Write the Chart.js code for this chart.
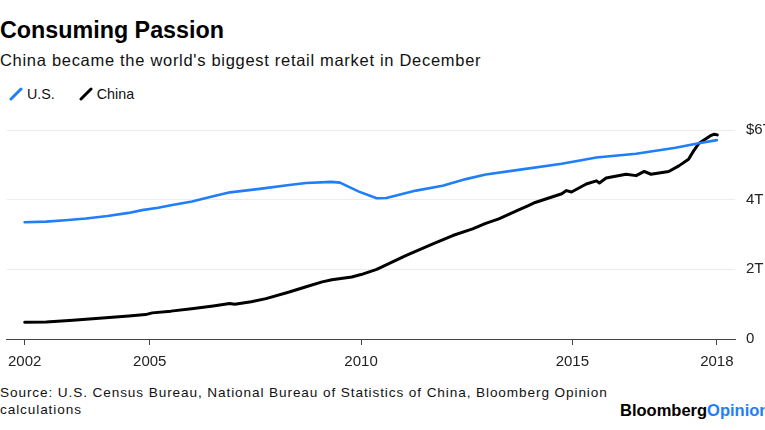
<!DOCTYPE html>
<html>
<head>
<meta charset="utf-8">
<script src="https://cdn.jsdelivr.net/npm/chart.js@4.4.1/dist/chart.umd.min.js"></script>
<style>
  body { margin: 0; width: 765px; height: 430px; overflow: hidden; background: #fff;
         font-family: "Liberation Sans", Arial, sans-serif; color: #000; position: relative; }
  #title { position: absolute; left: 0; top: 17px; font-size: 23.3px; font-weight: bold; }
  #subtitle { position: absolute; left: 0; top: 51px; font-size: 16.5px; letter-spacing: 0.7px; color: #111; }
  #legend { position: absolute; left: 9px; top: 86px; font-size: 14.3px; color: #111; }
  #legend span.item { display: inline-block; margin-right: 20px; }
  #legend svg { vertical-align: -2px; margin-right: 4px; }
  #wrap { position: absolute; left: 0; top: 110px; width: 765px; height: 265px; }
  #source { position: absolute; left: 0; top: 384px; font-size: 13.6px; letter-spacing: 0.9px; line-height: 17px; color: #111; }
  #logo { position: absolute; left: 620px; top: 401px; font-size: 16.5px; line-height: 19px;
          font-weight: bold; white-space: nowrap; }
  #logo .op { color: #1f7ef8; }
</style>
</head>
<body>
<div id="title">Consuming Passion</div>
<div id="subtitle">China became the world's biggest retail market in December</div>
<div id="legend">
  <span class="item"><svg width="14" height="14"><line x1="2" y1="12" x2="12" y2="2" stroke="#1f7ef8" stroke-width="3" stroke-linecap="round"/></svg>U.S.</span>
  <span class="item"><svg width="14" height="14"><line x1="2" y1="12" x2="12" y2="2" stroke="#000" stroke-width="3" stroke-linecap="round"/></svg>China</span>
</div>
<div id="wrap"><canvas id="chart"></canvas></div>
<div id="source">Source: U.S. Census Bureau, National Bureau of Statistics of China, Bloomberg Opinion<br>calculations</div>
<div id="logo">Bloomberg<span class="op">Opinion</span></div>

<script>
// retail sales, trillions of US$, x = decimal year
const usDates = [2002.04, 2002.55, 2003.0, 2003.49, 2004.0, 2004.5, 2004.82, 2005.2, 2005.5, 2006.0,
  2006.5, 2006.9, 2007.6, 2008.3, 2008.7, 2009.3, 2009.5, 2009.95, 2010.37, 2010.6,
  2011.3, 2011.93, 2012.48, 2012.95, 2013.81, 2014.75, 2015.57, 2016.51, 2017.44, 2017.99, 2018.42];
const usValues = [3.35, 3.37, 3.41, 3.46, 3.53, 3.62, 3.70, 3.77, 3.84, 3.95,
  4.10, 4.21, 4.31, 4.42, 4.48, 4.51, 4.49, 4.23, 4.04, 4.05,
  4.26, 4.40, 4.59, 4.72, 4.87, 5.03, 5.21, 5.32, 5.49, 5.62, 5.71];

const chinaDates = [2002.04, 2002.55, 2003.18, 2003.96, 2004.5, 2004.9, 2005.06, 2005.5, 2005.99, 2006.5,
  2006.89, 2007.01, 2007.4, 2007.75, 2008.3, 2008.7, 2009.08, 2009.31, 2009.78, 2010.0,
  2010.37, 2011.07, 2011.7, 2012.17, 2012.64, 2012.95, 2013.26, 2013.73, 2013.96, 2014.12,
  2014.75, 2014.86, 2014.98, 2015.33, 2015.57, 2015.64, 2015.8, 2016.27, 2016.51, 2016.7,
  2016.86, 2017.28, 2017.52, 2017.75, 2017.87, 2017.99, 2018.26, 2018.36, 2018.43];
const chinaValues = [0.48, 0.49, 0.54, 0.61, 0.66, 0.70, 0.75, 0.80, 0.87, 0.95,
  1.02, 1.00, 1.07, 1.16, 1.35, 1.50, 1.64, 1.70, 1.78, 1.85,
  2.00, 2.40, 2.73, 2.97, 3.16, 3.32, 3.45, 3.71, 3.83, 3.92,
  4.17, 4.26, 4.22, 4.45, 4.54, 4.48, 4.62, 4.73, 4.69, 4.81,
  4.73, 4.81, 4.97, 5.16, 5.40, 5.61, 5.83, 5.88, 5.86];

const xTickValues = [2002.04, 2005, 2010, 2015, 2018.42];
const xTickLabels = ['2002', '2005', '2010', '2015', '2018'];
const yTickLabels = ['0', '2T', '4T', '$6T'];

const toPoints = (xs, ys) => xs.map((x, i) => ({ x: x, y: ys[i] }));

new Chart(document.getElementById('chart'), {
  type: 'line',
  data: {
    datasets: [{
      label: 'U.S.',
      data: toPoints(usDates, usValues),
      borderColor: '#1f7ef8',
      borderWidth: 2.6
    }, {
      label: 'China',
      data: toPoints(chinaDates, chinaValues),
      borderColor: '#000',
      borderWidth: 3
    }]
  },
  options: {
    responsive: true,
    maintainAspectRatio: false,
    animation: false,
    layout: { padding: { top: 20, left: 0, right: 0, bottom: 0 } },
    plugins: { legend: { display: false }, tooltip: { enabled: false } },
    elements: {
      point: { radius: 0 },
      line: { tension: 0, borderCapStyle: 'round', borderJoinStyle: 'round' }
    },
    scales: {
      x: {
        type: 'linear',
        min: 2001.615,
        max: 2018.849,
        afterBuildTicks: s => { s.ticks = xTickValues.map(v => ({ value: v })) },
        afterFit: s => { s.height = 36 },
        ticks: {
          callback: (v, i) => xTickLabels[i],
          autoSkip: false, maxRotation: 0, padding: 8,
          color: '#222', font: { family: 'Liberation Sans', size: 15 }
        },
        grid: { drawOnChartArea: false, drawTicks: true, tickLength: 6, color: '#444' },
        border: { display: true, color: '#444', width: 1 }
      },
      y: {
        position: 'right',
        min: 0,
        max: 6,
        afterFit: s => { s.width = 30 },
        ticks: {
          stepSize: 2,
          callback: (v, i) => yTickLabels[i],
          padding: 11,
          color: '#222', font: { family: 'Liberation Sans', size: 15 }
        },
        grid: { color: '#ececec', drawTicks: false, lineWidth: 1 },
        border: { display: false }
      }
    }
  }
});
</script>
</body>
</html>
